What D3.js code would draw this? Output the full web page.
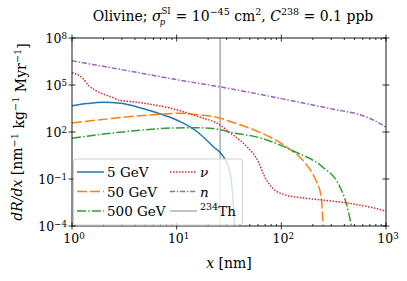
<!DOCTYPE html>
<html>
<head>
<meta charset="utf-8">
<script src="https://cdn.jsdelivr.net/npm/d3@7"></script>
<style>
  body { margin: 0; background: #fff; }
  text { font-family: "DejaVu Serif", serif; fill: #000; }
</style>
</head>
<body>
<svg id="chart" width="407" height="281"></svg>
<script>
// recoil spectra (x in nm, dR/dx per nm kg Myr)
const x5 = [1, 1.4, 2, 2.9, 4.2, 7.4, 10.7, 15.5, 22.4, 28.2, 32.4, 34.7, 35.7];
const y5 = [4.8e3, 6.6e3, 7.9e3, 6.9e3, 4.0e3, 1.26e3, 480, 112, 11.5, 2.5, 0.25, 3.2e-3, 1e-4];

const x50 = [1, 2.9, 7.4, 10.7, 15.8, 26.3, 30.9, 60.3, 117, 170, 209, 240, 251];
const y50 = [380, 830, 1410, 1580, 1260, 760, 525, 105, 9.1, 1.0, 0.115, 7.9e-3, 1e-4];

const x500 = [1, 2, 4, 8.7, 15.8, 26.3, 30.9, 64.6, 135, 245, 355, 417, 468];
const y500 = [40, 74, 120, 178, 186, 141, 105, 40, 5.5, 0.62, 0.042, 2.8e-3, 1e-4];

const xNu = [1, 1.26, 1.45, 1.74, 2.51, 2.82, 3.98, 6.31, 8.91, 15.8, 26.3, 31.6, 39.8, 47.9, 60.3, 67.6, 83.2, 107, 158, 251, 447, 708, 1000];
const yNu = [5.9e5, 2.8e5, 8.9e4, 4.0e4, 1.48e4, 1.05e4, 8.3e3, 5.2e3, 3.2e3, 1.0e3, 263, 100, 31.6, 10, 1.26, 0.2, 0.025, 0.01, 6.3e-3, 4.5e-3, 2.8e-3, 1.6e-3, 8.9e-4];

const xN = [1, 3.16, 10, 31.6, 100, 316, 562, 794, 1000];
const yN = [3.5e6, 8.9e5, 2.2e5, 6.0e4, 1.35e4, 2.8e3, 1.26e3, 500, 200];

const thX = 26;  // 234Th track length

const xTicks = [1, 10, 100, 1000];
const yTicks = [1e-4, 1e-1, 1e2, 1e5, 1e8];
const yTickExp = ['\u22124', '\u22121', '2', '5', '8'];
const xTickExp = ['0', '1', '2', '3'];

const svg = d3.select('#chart');
const pLeft = 72, pRight = 386, pTop = 38, pBottom = 226;

const x = d3.scaleLog().domain([1, 1000]).range([pLeft, pRight]);
const y = d3.scaleLog().domain([1e-4, 1e8]).range([pBottom, pTop]);

svg.append('clipPath').attr('id', 'clip')
  .append('rect').attr('x', pLeft).attr('y', pTop).attr('width', pRight - pLeft).attr('height', pBottom - pTop);

const plot = svg.append('g').attr('clip-path', 'url(#clip)');

const series = [
  { xs: x5, ys: y5, color: '#1f77b4', dash: null },
  { xs: x50, ys: y50, color: '#ff7f0e', dash: '10,3' },
  { xs: x500, ys: y500, color: '#2ca02c', dash: '9,2.2,1.5,2.2' },
  { xs: xNu, ys: yNu, color: '#d62728', dash: '1.5,1.5' },
  { xs: xN, ys: yN, color: '#9467bd', dash: '5,1.8,1.5,1.8' }
];

const line = d3.line()
  .x(d => x(d[0]))
  .y(d => y(d[1]))
  .curve(d3.curveMonotoneX);

// thorium line
plot.append('line')
  .attr('x1', x(thX)).attr('x2', x(thX))
  .attr('y1', pTop).attr('y2', pBottom)
  .attr('stroke', '#b0b0b0').attr('stroke-width', 1.6);

series.forEach(s => {
  plot.append('path')
    .attr('d', line(s.xs.map((v, i) => [v, s.ys[i]])))
    .attr('fill', 'none')
    .attr('stroke', s.color)
    .attr('stroke-width', 1.5)
    .attr('stroke-dasharray', s.dash);
});

// axes frame
svg.append('rect')
  .attr('x', pLeft).attr('y', pTop).attr('width', pRight - pLeft).attr('height', pBottom - pTop)
  .attr('fill', 'none').attr('stroke', '#000').attr('stroke-width', 0.9);

function supText(sel, base, exp) {
  sel.append('tspan').text(base);
  sel.append('tspan').attr('dy', '-0.45em').attr('font-size', '70%').text(exp);
}

// x ticks
const xMinor = [];
for (let d = 1; d < 1000; d *= 10) for (let k = 2; k <= 9; k++) xMinor.push(d * k);
const tk = svg.append('g').attr('stroke', '#000').attr('stroke-width', 0.8);
xMinor.forEach(v => {
  tk.append('line').attr('x1', x(v)).attr('x2', x(v)).attr('y1', pBottom).attr('y2', pBottom - 2);
  tk.append('line').attr('x1', x(v)).attr('x2', x(v)).attr('y1', pTop).attr('y2', pTop + 2);
});
xTicks.forEach((v, i) => {
  tk.append('line').attr('x1', x(v)).attr('x2', x(v)).attr('y1', pBottom + 3.5).attr('y2', pBottom - 3.5);
  tk.append('line').attr('x1', x(v)).attr('x2', x(v)).attr('y1', pTop - 3.5).attr('y2', pTop + 3.5);
  const t = svg.append('text').attr('x', x(v) + 2).attr('y', pBottom + 17)
    .attr('text-anchor', 'middle').attr('font-size', 12.5);
  supText(t, '10', xTickExp[i]);
});
yTicks.forEach((v, i) => {
  tk.append('line').attr('x1', pLeft - 3.5).attr('x2', pLeft + 3.5).attr('y1', y(v)).attr('y2', y(v));
  tk.append('line').attr('x1', pRight - 3.5).attr('x2', pRight + 3.5).attr('y1', y(v)).attr('y2', y(v));
  const t = svg.append('text').attr('x', pLeft - 5).attr('y', y(v) + 5)
    .attr('text-anchor', 'end').attr('font-size', 12.5);
  supText(t, '10', yTickExp[i]);
});

// axis labels
const xl = svg.append('text').attr('x', (pLeft + pRight) / 2).attr('y', 268)
  .attr('text-anchor', 'middle').attr('font-size', 14);
xl.append('tspan').attr('font-style', 'italic').text('x');
xl.append('tspan').text(' [nm]');

const yl = svg.append('text')
  .attr('transform', `translate(22, ${(pTop + pBottom) / 2}) rotate(-90)`)
  .attr('text-anchor', 'middle').attr('font-size', 14);
yl.append('tspan').attr('font-style', 'italic').text('dR/dx');
yl.append('tspan').text(' [nm');
yl.append('tspan').attr('dy', '-0.45em').attr('font-size', '70%').text('\u22121');
yl.append('tspan').attr('dy', '0.45em').text(' kg');
yl.append('tspan').attr('dy', '-0.45em').attr('font-size', '70%').text('\u22121');
yl.append('tspan').attr('dy', '0.45em').text(' Myr');
yl.append('tspan').attr('dy', '-0.45em').attr('font-size', '70%').text('\u22121');
yl.append('tspan').attr('dy', '0.45em').text(']');

// title
const ti = svg.append('text').attr('x', (pLeft + pRight) / 2 + 4).attr('y', 21)
  .attr('text-anchor', 'middle').attr('font-size', 14);
ti.append('tspan').text('Olivine; ');
ti.append('tspan').attr('font-style', 'italic').text('\u03c3');
ti.append('tspan').attr('dy', -7.5).attr('font-size', 8.5).text('SI');
ti.append('tspan').attr('dx', -11).attr('dy', 11.5).attr('font-size', 8.5).attr('font-style', 'italic').text('p');
ti.append('tspan').attr('dx', 6).attr('dy', -4).text(' = 10');
ti.append('tspan').attr('dy', -6).attr('font-size', 9.5).text('\u221245');
ti.append('tspan').attr('dy', 6).text(' cm');
ti.append('tspan').attr('dy', -6).attr('font-size', 9.5).text('2');
ti.append('tspan').attr('dy', 6).text(', ');
ti.append('tspan').attr('font-style', 'italic').text('C');
ti.append('tspan').attr('dy', -6).attr('font-size', 9.5).text('238');
ti.append('tspan').attr('dy', 6).text(' = 0.1 ppb');

// legend
const lg = svg.append('g');
lg.append('rect')
  .attr('x', 73.5).attr('y', 159).attr('width', 169).attr('height', 66).attr('rx', 3)
  .attr('fill', '#fff').attr('fill-opacity', 0.8).attr('stroke', '#d0d0d0').attr('stroke-width', 1);

const legendItems = [
  { label: '5 GeV', s: series[0], col: 0, row: 0 },
  { label: '50 GeV', s: series[1], col: 0, row: 1 },
  { label: '500 GeV', s: series[2], col: 0, row: 2 },
  { label: '\u03bd', s: series[3], col: 1, row: 0, italic: true },
  { label: 'n', s: series[4], col: 1, row: 1, italic: true },
  { label: 'Th', s: { color: '#b0b0b0', dash: null }, col: 1, row: 2, th: true }
];
legendItems.forEach(it => {
  const hx = it.col === 0 ? 77 : 170;
  const ry = 172 + it.row * 19.5;
  lg.append('line')
    .attr('x1', hx).attr('x2', hx + 27).attr('y1', ry).attr('y2', ry)
    .attr('stroke', it.s.color).attr('stroke-width', 1.5)
    .attr('stroke-dasharray', it.s.dash);
  const t = lg.append('text').attr('x', hx + 30).attr('y', ry + 5).attr('font-size', 13.5);
  if (it.th) {
    t.append('tspan').attr('dy', -6).attr('font-size', 9.5).text('234');
    t.append('tspan').attr('dy', 6).text('Th');
  } else {
    t.append('tspan').attr('font-style', it.italic ? 'italic' : null).text(it.label);
  }
});
</script>
</body>
</html>
